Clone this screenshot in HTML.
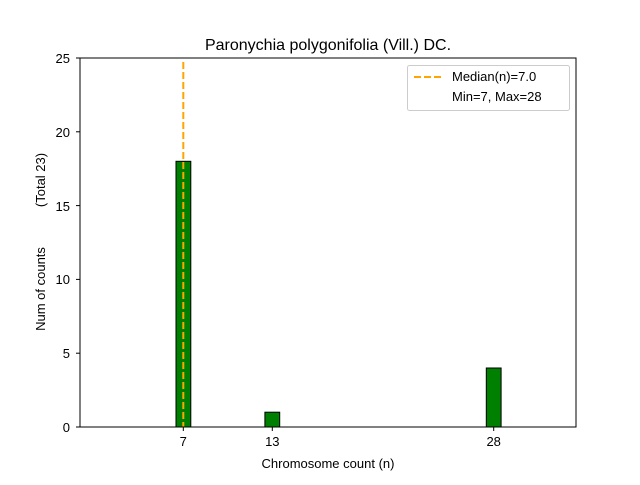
<!DOCTYPE html>
<html><head><style>body{margin:0;background:#fff}</style></head><body>
<svg width="640" height="480" xmlns="http://www.w3.org/2000/svg" font-family="Liberation Sans, DejaVu Sans, sans-serif">
<rect width="640" height="480" fill="#fff"/>
<rect x="176" y="161.3" width="14.8" height="265.7" fill="#008000" stroke="#000" stroke-width="1"/>
<rect x="264.9" y="412.2" width="14.8" height="14.8" fill="#008000" stroke="#000" stroke-width="1"/>
<rect x="486.3" y="368" width="14.8" height="59" fill="#008000" stroke="#000" stroke-width="1"/>
<line x1="183.3" y1="62" x2="183.3" y2="427" stroke="#FFA500" stroke-width="2" stroke-dasharray="7,3"/>
<rect x="80" y="58" width="496" height="369" fill="none" stroke="#000" stroke-width="1"/>
<g font-size="13" fill="#000">
<g text-anchor="end">
<text x="70" y="432">0</text><line x1="76" y1="427" x2="80" y2="427" stroke="#000"/>
<text x="70" y="358">5</text><line x1="76" y1="353.2" x2="80" y2="353.2" stroke="#000"/>
<text x="70" y="284">10</text><line x1="76" y1="279.4" x2="80" y2="279.4" stroke="#000"/>
<text x="70" y="211">15</text><line x1="76" y1="205.6" x2="80" y2="205.6" stroke="#000"/>
<text x="70" y="137">20</text><line x1="76" y1="131.8" x2="80" y2="131.8" stroke="#000"/>
<text x="70" y="63">25</text><line x1="76" y1="58" x2="80" y2="58" stroke="#000"/>
</g>
<g text-anchor="middle">
<line x1="183.3" y1="427" x2="183.3" y2="431" stroke="#000"/><text x="183.3" y="446">7</text>
<line x1="272.3" y1="427" x2="272.3" y2="431" stroke="#000"/><text x="272.3" y="446">13</text>
<line x1="493.7" y1="427" x2="493.7" y2="431" stroke="#000"/><text x="493.7" y="446">28</text>
<text x="328" y="468">Chromosome count (n)</text>
<text x="328" y="50" font-size="16">Paronychia polygonifolia (Vill.) DC.</text>
</g>
<text transform="translate(45,289) rotate(-90)" text-anchor="middle">Num of counts</text>
<text transform="translate(45,180) rotate(-90)" text-anchor="middle">(Total 23)</text>
</g>
<rect x="407.5" y="65.5" width="162" height="45" fill="#fff" stroke="#ccc" rx="2"/>
<line x1="414" y1="77" x2="442" y2="77" stroke="#FFA500" stroke-width="2" stroke-dasharray="7,3"/>
<text x="452" y="81" font-size="13">Median(n)=7.0</text>
<text x="452" y="101" font-size="13">Min=7, Max=28</text>
</svg>
</body></html>
